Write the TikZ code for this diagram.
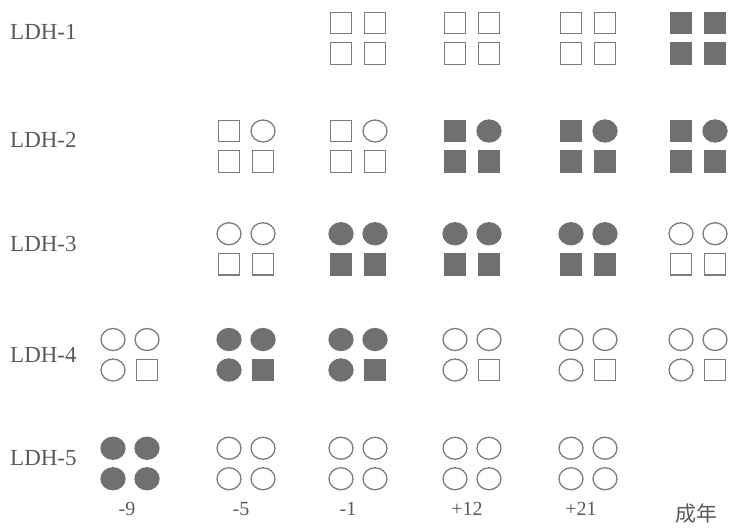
\documentclass[tikz,border=0pt]{standalone}
\usepackage{fontspec}
\setmainfont{Liberation Serif}
\newfontfamily\cjk{Noto Sans CJK SC}
\usetikzlibrary{shapes.geometric}
\definecolor{ink}{HTML}{7C7C7C}
\definecolor{fillg}{HTML}{707070}
\definecolor{txt}{HTML}{5A5A5A}
\newcommand\mkgrp[7]{%
  \node[#4] (#1a) at ({#2-17},{#3-15.25}) {};
  \node[#5] (#1b) at ({#2+17},{#3-15.25}) {};
  \node[#6] (#1c) at ({#2-17},{#3+15.25}) {};
  \node[#7] (#1d) at ({#2+17},{#3+15.25}) {};}
\begin{document}
\begin{tikzpicture}[x=1pt,y=-1pt,
  shp/.style={draw=ink,line width=1.3pt,inner sep=0pt},
  So/.style={shp,rectangle,minimum size=21.5pt},
  Sf/.style={So,fill=fillg,draw=fillg},
  Co/.style={shp,ellipse,minimum width=24pt,minimum height=22pt},
  Cf/.style={Co,fill=fillg,draw=fillg},
  lab/.style={text=txt,font=\fontsize{23}{26}\selectfont,anchor=west,inner sep=0pt},
  tick/.style={text=txt,font=\fontsize{20}{22}\selectfont,inner sep=0pt}]
\useasboundingbox (0,0) rectangle (734,531);
% row labels
\node[lab] (l1) at (10,32) {LDH-1};
\node[lab] (l2) at (10,140) {LDH-2};
\node[lab] (l3) at (10,244) {LDH-3};
\node[lab] (l4) at (10,355) {LDH-4};
\node[lab] (l5) at (10,458) {LDH-5};
% LDH-1
\mkgrp{g13}{358}{38.25}{So}{So}{So}{So}
\mkgrp{g14}{472}{38.25}{So}{So}{So}{So}
\mkgrp{g15}{588}{38.25}{So}{So}{So}{So}
\mkgrp{g16}{698}{38.25}{Sf}{Sf}{Sf}{Sf}
% LDH-2
\mkgrp{g22}{246}{146.25}{So}{Co}{So}{So}
\mkgrp{g23}{358}{146.25}{So}{Co}{So}{So}
\mkgrp{g24}{472}{146.25}{Sf}{Cf}{Sf}{Sf}
\mkgrp{g25}{588}{146.25}{Sf}{Cf}{Sf}{Sf}
\mkgrp{g26}{698}{146.25}{Sf}{Cf}{Sf}{Sf}
% LDH-3
\mkgrp{g32}{246}{249}{Co}{Co}{So}{So}
\mkgrp{g33}{358}{249}{Cf}{Cf}{Sf}{Sf}
\mkgrp{g34}{472}{249}{Cf}{Cf}{Sf}{Sf}
\mkgrp{g35}{588}{249}{Cf}{Cf}{Sf}{Sf}
\mkgrp{g36}{698}{249}{Co}{Co}{So}{So}
% LDH-4
\mkgrp{g41}{130}{354.75}{Co}{Co}{Co}{So}
\mkgrp{g42}{246}{354.75}{Cf}{Cf}{Cf}{Sf}
\mkgrp{g43}{358}{354.75}{Cf}{Cf}{Cf}{Sf}
\mkgrp{g44}{472}{354.75}{Co}{Co}{Co}{So}
\mkgrp{g45}{588}{354.75}{Co}{Co}{Co}{So}
\mkgrp{g46}{698}{354.75}{Co}{Co}{Co}{So}
% LDH-5
\mkgrp{g51}{130}{463.5}{Cf}{Cf}{Cf}{Cf}
\mkgrp{g52}{246}{463.5}{Co}{Co}{Co}{Co}
\mkgrp{g53}{358}{463.5}{Co}{Co}{Co}{Co}
\mkgrp{g54}{472}{463.5}{Co}{Co}{Co}{Co}
\mkgrp{g55}{588}{463.5}{Co}{Co}{Co}{Co}
% time axis labels
\node[tick] (t1) at (127,509) {-9};
\node[tick] (t2) at (241,509) {-5};
\node[tick] (t3) at (348,509) {-1};
\node[tick] (t4) at (467,509) {+12};
\node[tick] (t5) at (581,509) {+21};
\node[tick,font=\cjk\fontsize{21}{23}\selectfont] (t6) at (696,514) {成年};
\end{tikzpicture}
\end{document}
